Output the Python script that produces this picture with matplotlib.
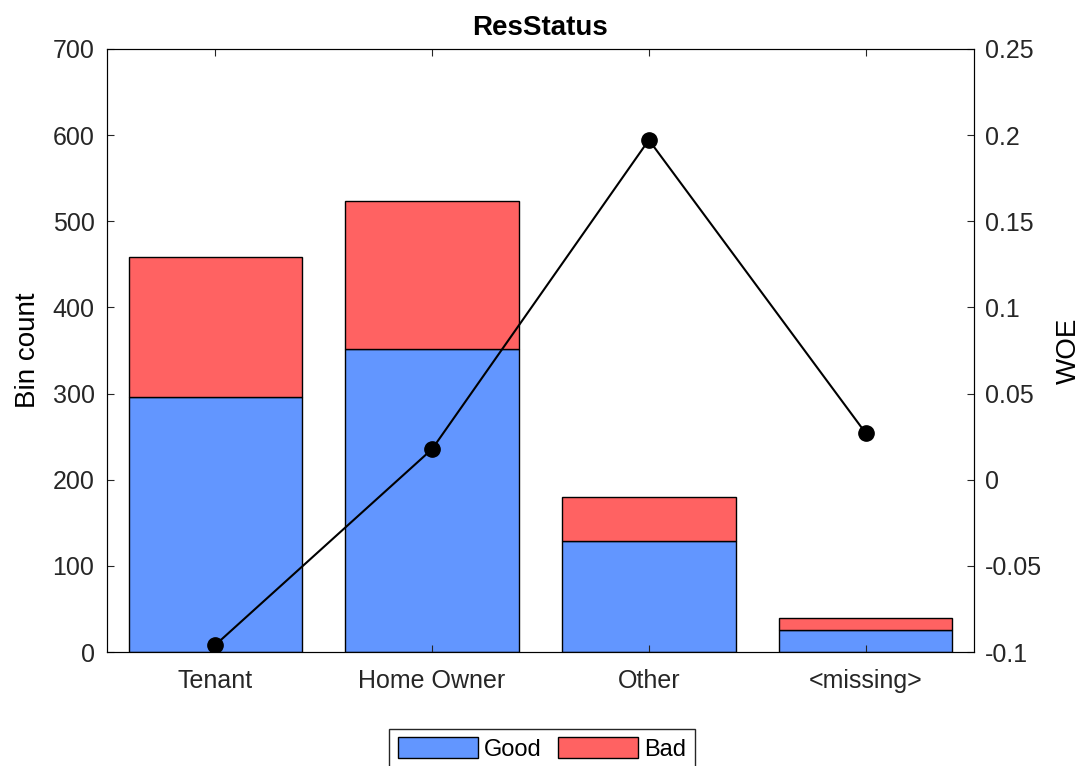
import numpy as np
import matplotlib.pyplot as plt
from matplotlib.patches import Patch

plt.rcParams['font.family'] = ['Liberation Sans', 'DejaVu Sans']

# Bin data
categories = ['Tenant', 'Home Owner', 'Other', '<missing>']
good = [296, 352, 129, 25]
bad = [163, 172, 51, 15]
woe = [-0.0959, 0.0178, 0.1972, 0.0271]

blue = '#6296ff'
red = '#ff6262'

fig = plt.figure(figsize=(10.84, 7.66), dpi=100)
ax = fig.add_axes([107 / 1084, 1 - 652 / 766, 867 / 1084, 603 / 766])
x = np.arange(1, len(categories) + 1)

ax.bar(x, good, width=0.8, color=blue, edgecolor='black', linewidth=1.0)
ax.bar(x, bad, width=0.8, bottom=good, color=red, edgecolor='black', linewidth=1.0)
ax.set_xlim(0.5, 4.5)
ax.set_ylim(0, 700)
ax.set_yticks(range(0, 701, 100))
ax.set_xticks(x)
ax.set_xticklabels(categories)
ax.set_ylabel('Bin count', fontsize=20, labelpad=8)
ax.set_title('ResStatus', fontsize=20, fontweight='bold', pad=10)
ax.tick_params(direction='in', labelsize=18, top=True, length=5, colors='#262626')
ax.tick_params(axis='y', pad=9)
ax.tick_params(axis='x', pad=12)
for s in ax.spines.values():
    s.set_color('#262626')

ax2 = ax.twinx()
ax2.plot(x, woe, color='black', linewidth=1.5, marker='o', markersize=11)
ax2.set_ylim(-0.1, 0.25)
ax2.set_yticks(np.arange(-0.1, 0.2501, 0.05))
ax2.set_yticklabels(['-0.1', '-0.05', '0', '0.05', '0.1', '0.15', '0.2', '0.25'])
ax2.set_ylabel('WOE', fontsize=20, labelpad=10)
ax2.tick_params(direction='in', labelsize=18, length=5, pad=8, colors='#262626')

handles = [Patch(facecolor=blue, edgecolor='black', label='Good'),
           Patch(facecolor=red, edgecolor='black', label='Bad')]
fig.legend(handles=handles, loc='upper center', bbox_to_anchor=(0.5, 1 - 729 / 766), ncol=2,
           fontsize=17, fancybox=False, edgecolor='#262626', handlelength=3.4,
           handleheight=1.0, handletextpad=0.25, columnspacing=0.7,
           borderpad=0.35, borderaxespad=0, framealpha=1)

fig.savefig('out.png', dpi=100)
